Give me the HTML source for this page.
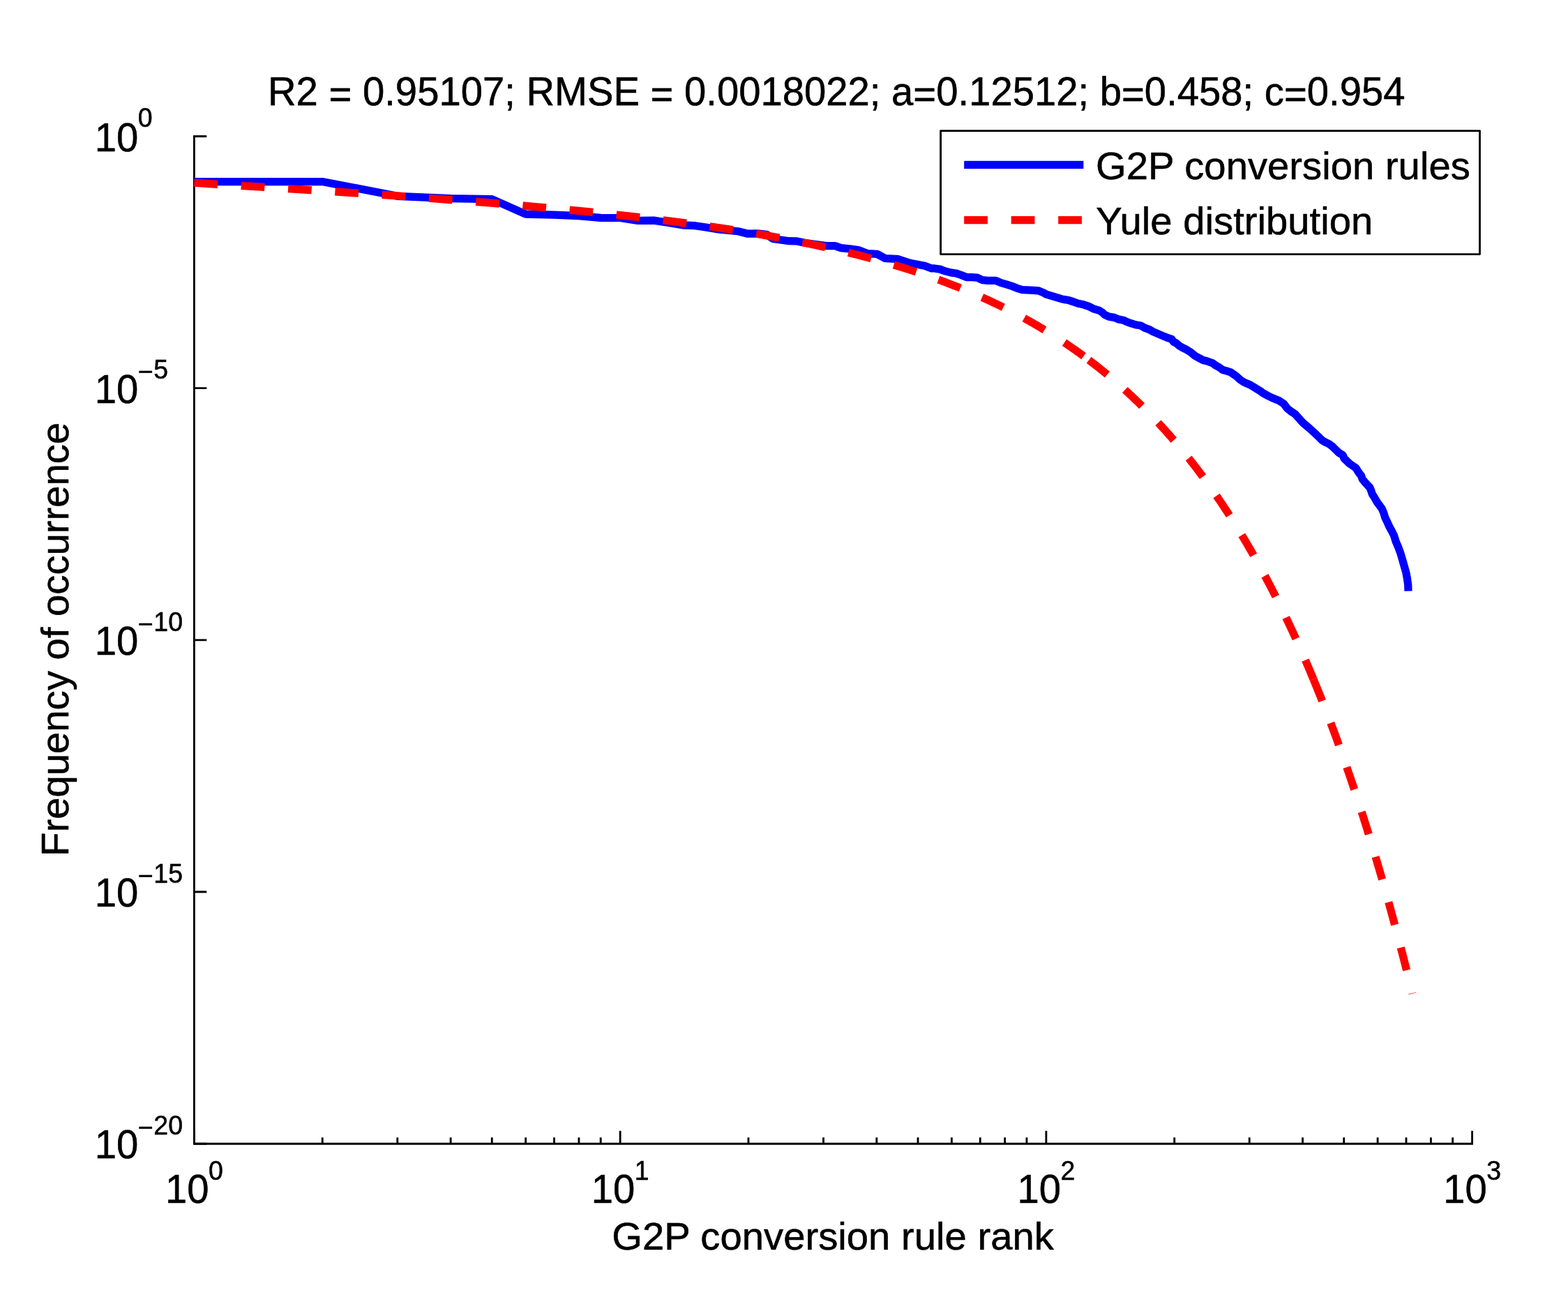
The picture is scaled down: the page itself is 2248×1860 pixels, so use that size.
<!DOCTYPE html>
<html lang="en"><head><meta charset="utf-8"><title>G2P conversion rules</title>
<style>html,body{margin:0;padding:0;background:#fff}body{width:2248px;height:1860px;overflow:hidden}svg{display:block}text{font-family:"Liberation Sans",sans-serif;fill:#000;stroke:#000;stroke-width:0.55px;stroke-linejoin:round}</style></head><body>
<svg width="2248" height="1860" viewBox="0 0 2248 1860">
<rect width="2248" height="1860" fill="#fff"/>
<g stroke="#000" stroke-width="2.85" fill="none" stroke-linecap="butt">
<path d="M278.40 195.50 V1640.20 H2110.60" stroke-linejoin="miter" stroke-linecap="square"/>
<path d="M278.40 195.50 h17.90 M278.40 556.67 h17.90 M278.40 917.85 h17.90 M278.40 1279.03 h17.90 M278.40 1640.20 h17.90 M278.40 1640.20 v-18.40 M462.25 1640.20 v-9.00 M569.79 1640.20 v-9.00 M646.10 1640.20 v-9.00 M705.28 1640.20 v-9.00 M753.64 1640.20 v-9.00 M794.53 1640.20 v-9.00 M829.95 1640.20 v-9.00 M861.19 1640.20 v-9.00 M889.13 1640.20 v-18.40 M1072.98 1640.20 v-9.00 M1180.53 1640.20 v-9.00 M1256.83 1640.20 v-9.00 M1316.02 1640.20 v-9.00 M1364.38 1640.20 v-9.00 M1405.26 1640.20 v-9.00 M1440.68 1640.20 v-9.00 M1471.92 1640.20 v-9.00 M1499.87 1640.20 v-18.40 M1683.72 1640.20 v-9.00 M1791.26 1640.20 v-9.00 M1867.56 1640.20 v-9.00 M1926.75 1640.20 v-9.00 M1975.11 1640.20 v-9.00 M2016.00 1640.20 v-9.00 M2051.41 1640.20 v-9.00 M2082.65 1640.20 v-9.00 M2110.60 1640.20 v-18.40"/>
</g>
<path d="M278.40 260.50 L462.25 260.50 L569.79 281.30 L646.10 284.60 L705.28 285.70 L753.64 307.20 L794.53 308.10 L829.95 309.70 L861.19 312.40 L889.13 312.50 L914.41 316.40 L937.49 316.10 L958.72 319.50 L978.38 322.80 L996.68 323.70 L1013.80 326.30 L1029.88 329.00 L1058.48 331.75 L1072.10 335.22 L1085.71 334.97 L1099.33 336.33 L1108.00 342.40 L1119.14 344.01 L1131.52 345.74 L1142.67 345.99 L1153.81 348.22 L1166.19 349.95 L1184.76 352.68 L1197.14 352.68 L1205.81 355.65 L1218.19 356.89 L1230.57 358.50 L1244.19 363.70 L1257.81 364.44 L1268.95 370.50 L1285.05 371.37 L1287.43 371.48 L1304.76 377.30 L1325.81 381.26 L1335.71 384.97 L1340.00 384.95 L1347.62 386.10 L1355.24 388.91 L1362.86 390.90 L1370.48 391.96 L1378.10 394.48 L1385.71 397.52 L1393.33 397.52 L1400.95 398.06 L1408.57 401.71 L1416.19 402.32 L1427.62 402.32 L1435.24 405.68 L1442.86 407.81 L1450.48 410.25 L1458.10 413.30 L1465.71 415.58 L1477.14 416.19 L1488.57 416.80 L1496.19 419.85 L1500.00 422.15 L1507.62 424.44 L1515.24 426.57 L1522.86 429.01 L1530.48 430.23 L1538.10 432.51 L1545.71 435.33 L1553.33 436.86 L1560.95 439.37 L1568.57 443.18 L1576.19 445.47 L1580.00 447.75 L1583.81 451.33 L1589.90 454.15 L1597.52 455.37 L1602.86 457.66 L1610.48 459.18 L1614.29 461.01 L1619.62 463.14 L1629.52 466.04 L1635.62 466.95 L1640.95 470.15 L1648.57 472.90 L1652.38 475.33 L1660.00 478.57 L1667.62 481.85 L1675.24 484.97 L1679.81 486.42 L1682.86 490.53 L1685.90 491.75 L1690.48 495.71 L1695.81 498.91 L1701.14 501.43 L1707.24 505.24 L1713.33 510.34 L1720.19 514.00 L1724.76 516.44 L1730.86 517.96 L1738.48 520.70 L1743.81 524.67 L1746.86 526.04 L1752.95 530.46 L1758.29 531.90 L1764.38 533.81 L1766.67 535.49 L1772.00 539.14 L1778.10 544.63 L1783.43 548.13 L1791.81 551.71 L1797.14 554.76 L1802.48 558.19 L1808.57 561.85 L1810.00 563.29 L1818.06 567.72 L1826.11 571.59 L1834.17 574.81 L1840.61 579.16 L1845.44 585.60 L1851.08 590.12 L1856.72 593.66 L1862.36 599.94 L1868.00 606.39 L1872.83 610.41 L1878.47 615.25 L1884.11 620.48 L1890.55 626.52 L1895.39 631.36 L1900.00 634.10 L1904.60 636.23 L1909.78 639.85 L1913.23 643.30 L1919.56 649.34 L1925.03 652.51 L1927.04 657.40 L1935.10 665.17 L1944.02 671.21 L1948.04 677.83 L1951.50 682.14 L1953.22 687.03 L1956.67 691.35 L1963.87 699.11 L1965.88 704.00 L1967.32 708.61 L1970.20 712.92 L1974.22 720.00 L1976.71 723.29 L1981.27 729.62 L1983.92 735.95 L1985.82 742.28 L1988.86 748.61 L1991.71 754.94 L1995.19 761.27 L1998.35 767.59 L2001.27 776.71 L2005.06 785.57 L2008.23 794.43 L2010.76 803.29 L2013.29 812.15 L2015.82 821.01 L2017.47 829.87 L2018.73 838.73 L2018.99 847.59" fill="none" stroke="#0000ff" stroke-width="11.25" stroke-linejoin="round" stroke-linecap="butt"/>
<path d="M278.40 262.18 L462.25 273.62 L569.79 280.92 L646.10 286.53 L705.28 291.22 L753.64 295.31 L794.53 299.00 L829.95 302.40 L861.19 305.57 L889.13 308.56 L914.41 311.41 L937.49 314.14 L958.72 316.76 L978.38 319.31 L996.68 321.77 L1013.80 324.18 L1029.88 326.53 L1045.04 328.83 L1059.38 331.08 L1072.98 333.29 L1085.92 335.47 L1098.26 337.62 L1110.05 339.73 L1121.34 341.82 L1132.17 343.89 L1142.57 345.93 L1152.58 347.95 L1162.23 349.95 L1171.54 351.93 L1180.53 353.89 L1189.22 355.84 L1197.65 357.77 L1205.81 359.69 L1213.73 361.60 L1221.41 363.49 L1228.89 365.38 L1236.15 367.25 L1243.23 369.11 L1250.12 370.96 L1256.83 372.80 L1263.38 374.63 L1269.77 376.46 L1276.01 378.27 L1282.11 380.08 L1288.07 381.88 L1293.90 383.67 L1299.61 385.46 L1305.19 387.24 L1310.66 389.01 L1316.02 390.78 L1321.27 392.54 L1326.42 394.30 L1331.47 396.05 L1336.43 397.79 L1341.30 399.53 L1346.08 401.27 L1350.77 403.00 L1355.38 404.73 L1359.92 406.45 L1364.38 408.17 L1368.76 409.89 L1373.07 411.60 L1377.32 413.30 L1381.49 415.01 L1385.61 416.71 L1389.66 418.41 L1393.64 420.10 L1397.57 421.79 L1401.45 423.48 L1405.26 425.16 L1409.03 426.84 L1412.73 428.52 L1416.39 430.19 L1420.00 431.87 L1423.56 433.54 L1427.08 435.21 L1430.54 436.87 L1433.97 438.53 L1437.34 440.19 L1440.68 441.85 L1443.98 443.51 L1447.23 445.16 L1450.44 446.81 L1453.62 448.46 L1456.76 450.11 L1459.86 451.75 L1462.93 453.40 L1465.96 455.04 L1468.96 456.68 L1471.92 458.32 L1474.85 459.95 L1477.75 461.59 L1480.62 463.22 L1483.45 464.85 L1486.26 466.48 L1489.04 468.11 L1491.79 469.73 L1494.51 471.36 L1497.20 472.98 L1499.87 474.60 L1502.51 476.22 L1505.12 477.84 L1507.71 479.46 L1510.27 481.08 L1512.81 482.69 L1515.32 484.31 L1517.81 485.92 L1520.28 487.53 L1522.72 489.14 L1525.15 490.75 L1527.55 492.35 L1529.93 493.96 L1532.28 495.57 L1534.62 497.17 L1536.94 498.77 L1539.23 500.37 L1541.51 501.97 L1543.77 503.57 L1546.01 505.17 L1548.23 506.77 L1550.43 508.37 L1552.61 509.96 L1554.77 511.56 L1556.92 513.15 L1559.05 514.74 L1561.17 516.34" fill="none" stroke="#ff0000" stroke-width="11.25" stroke-dasharray="33.70 33.75" stroke-linejoin="round" stroke-linecap="butt"/>
<path d="M1561.17 516.34 L1563.26 517.93 L1565.34 519.52 L1567.41 521.11 L1569.46 522.69 L1571.49 524.28 L1573.51 525.87 L1575.51 527.45 L1577.49 529.04 L1579.47 530.62 L1581.42 532.21 L1583.37 533.79 L1585.30 535.37 L1587.21 536.95 L1589.11 538.53 L1591.00 540.11 L1592.87 541.69 L1594.74 543.27 L1596.58 544.85 L1598.42 546.42 L1600.24 548.00 L1602.05 549.57 L1603.85 551.15 L1605.64 552.72 L1607.41 554.30 L1609.17 555.87 L1610.92 557.44 L1612.66 559.01 L1614.39 560.58 L1616.11 562.15 L1617.81 563.72 L1619.51 565.29 L1621.19 566.86 L1622.87 568.43 L1624.53 570.00 L1626.18 571.56 L1627.82 573.13 L1629.46 574.70 L1631.08 576.26 L1632.69 577.83 L1634.29 579.39 L1635.89 580.95 L1637.47 582.52 L1639.04 584.08 L1640.61 585.64 L1642.17 587.20 L1643.71 588.76 L1645.25 590.32 L1646.78 591.88 L1648.30 593.44 L1649.81 595.00 L1651.31 596.56 L1652.81 598.12 L1654.29 599.68 L1655.77 601.24 L1657.24 602.79 L1658.70 604.35 L1660.15 605.90 L1661.60 607.46 L1663.04 609.02 L1664.47 610.57 L1665.89 612.12 L1667.30 613.68 L1668.71 615.23 L1670.11 616.79 L1671.50 618.34 L1672.89 619.89 L1674.27 621.44 L1675.64 622.99 L1677.00 624.55 L1678.36 626.10 L1679.71 627.65 L1681.05 629.20 L1682.39 630.75 L1683.72 632.30 L1685.04 633.84 L1686.35 635.39 L1687.66 636.94 L1688.97 638.49 L1690.27 640.04 L1691.56 641.58 L1692.84 643.13 L1694.12 644.68 L1695.39 646.22 L1696.66 647.77 L1697.92 649.32 L1699.17 650.86 L1700.42 652.41 L1701.66 653.95 L1702.90 655.49 L1704.13 657.04 L1705.35 658.58 L1706.57 660.13 L1707.79 661.67 L1709.00 663.21 L1710.20 664.75 L1711.40 666.30 L1712.59 667.84 L1713.77 669.38 L1714.96 670.92 L1716.13 672.46 L1717.30 674.00 L1718.47 675.54 L1719.63 677.08 L1720.79 678.62 L1721.94 680.16 L1723.08 681.70 L1724.22 683.24 L1725.36 684.78 L1726.49 686.32 L1727.62 687.86 L1728.74 689.40 L1729.85 690.93 L1730.97 692.47 L1732.07 694.01 L1733.18 695.55 L1734.28 697.08 L1735.37 698.62 L1736.46 700.15 L1737.54 701.69 L1738.62 703.23 L1739.70 704.76 L1740.77 706.30 L1741.84 707.83 L1742.90 709.37 L1743.96 710.90 L1745.02 712.44 L1746.07 713.97 L1747.11 715.51 L1748.15 717.04 L1749.19 718.57 L1750.23 720.11 L1751.26 721.64 L1752.28 723.17 L1753.30 724.70 L1754.32 726.24 L1755.34 727.77 L1756.35 729.30 L1757.35 730.83 L1758.36 732.37 L1759.36 733.90 L1760.35 735.43 L1761.34 736.96 L1762.33 738.49 L1763.31 740.02 L1764.30 741.55 L1765.27 743.08 L1766.25 744.61 L1767.22 746.14 L1768.18 747.67 L1769.14 749.20 L1770.10 750.73 L1771.06 752.26 L1772.01 753.79 L1772.96 755.32 L1773.91 756.84 L1774.85 758.37 L1775.79 759.90 L1776.72 761.43 L1777.66 762.96 L1778.58 764.48 L1779.51 766.01 L1780.43 767.54 L1781.35 769.07 L1782.27 770.59 L1783.18 772.12 L1784.09 773.65 L1785.00 775.17 L1785.90 776.70 L1786.80 778.23 L1787.70 779.75 L1788.59 781.28 L1789.49 782.80 L1790.37 784.33 L1791.26 785.85 L1792.14 787.38 L1793.02 788.90 L1793.90 790.43 L1794.77 791.95 L1795.64 793.48 L1796.51 795.00 L1797.38 796.53 L1798.24 798.05 L1799.10 799.57 L1799.96 801.10 L1800.81 802.62 L1801.66 804.15 L1802.51 805.67 L1803.36 807.19 L1804.20 808.71 L1805.04 810.24 L1805.88 811.76 L1806.72 813.28 L1807.55 814.81 L1808.38 816.33 L1809.21 817.85 L1810.03 819.37 L1810.85 820.89 L1811.67 822.42 L1812.49 823.94 L1813.31 825.46 L1814.12 826.98 L1814.93 828.50 L1815.74 830.02 L1816.54 831.54 L1817.34 833.06 L1818.14 834.58 L1818.94 836.10 L1819.74 837.63 L1820.53 839.15 L1821.32 840.67 L1822.11 842.19 L1822.89 843.71 L1823.68 845.23 L1824.46 846.74 L1825.24 848.26 L1826.01 849.78 L1826.79 851.30 L1827.56 852.82 L1828.33 854.34 L1829.10 855.86 L1829.86 857.38 L1830.63 858.90 L1831.39 860.42 L1832.15 861.93 L1832.90 863.45 L1833.66 864.97 L1834.41 866.49 L1835.16 868.01 L1835.91 869.53 L1836.66 871.04 L1837.40 872.56 L1838.14 874.08 L1838.88 875.60 L1839.62 877.11 L1840.35 878.63 L1841.09 880.15 L1841.82 881.66 L1842.55 883.18 L1843.28 884.70 L1844.00 886.21 L1844.73 887.73 L1845.45 889.25 L1846.17 890.76 L1846.89 892.28 L1847.60 893.80 L1848.32 895.31 L1849.03 896.83 L1849.74 898.34 L1850.45 899.86 L1851.15 901.37 L1851.86 902.89 L1852.56 904.41 L1853.26 905.92 L1853.96 907.44 L1854.66 908.95 L1855.35 910.47 L1856.05 911.98 L1856.74 913.50 L1857.43 915.01 L1858.12 916.53 L1858.80 918.04 L1859.49 919.55 L1860.17 921.07 L1860.85 922.58 L1861.53 924.10 L1862.21 925.61 L1862.88 927.12 L1863.56 928.64 L1864.23 930.15 L1864.90 931.67 L1865.57 933.18 L1866.24 934.69 L1866.90 936.21 L1867.56 937.72 L1868.23 939.23 L1868.89 940.75 L1869.55 942.26 L1870.20 943.77 L1870.86 945.28 L1871.51 946.80 L1872.17 948.31 L1872.82 949.82 L1873.47 951.34 L1874.11 952.85 L1874.76 954.36 L1875.40 955.87 L1876.05 957.38 L1876.69 958.90 L1877.33 960.41 L1877.97 961.92 L1878.60 963.43 L1879.24 964.94 L1879.87 966.46 L1880.51 967.97 L1881.14 969.48 L1881.77 970.99 L1882.39 972.50 L1883.02 974.01" fill="none" stroke="#ff0000" stroke-width="11.25" stroke-dasharray="33.50 33.57" stroke-linejoin="round" stroke-linecap="butt"/>
<path d="M1883.02 974.01 L1883.64 975.52 L1884.27 977.03 L1884.89 978.55 L1885.51 980.06 L1886.13 981.57 L1886.75 983.08 L1887.36 984.59 L1887.98 986.10 L1888.59 987.61 L1889.20 989.12 L1889.81 990.63 L1890.42 992.14 L1891.03 993.65 L1891.64 995.16 L1892.24 996.67 L1892.84 998.18 L1893.45 999.69 L1894.05 1001.20 L1894.65 1002.71 L1895.25 1004.22 L1895.84 1005.73 L1896.44 1007.24 L1897.03 1008.75 L1897.62 1010.26 L1898.22 1011.77 L1898.81 1013.28 L1899.39 1014.79 L1899.98 1016.30 L1900.57 1017.81 L1901.15 1019.31 L1901.74 1020.82 L1902.32 1022.33 L1902.90 1023.84 L1903.48 1025.35 L1904.06 1026.86 L1904.63 1028.37 L1905.21 1029.88 L1905.79 1031.38 L1906.36 1032.89 L1906.93 1034.40 L1907.50 1035.91 L1908.07 1037.42 L1908.64 1038.93 L1909.21 1040.43 L1909.77 1041.94 L1910.34 1043.45 L1910.90 1044.96 L1911.47 1046.46 L1912.03 1047.97 L1912.59 1049.48 L1913.15 1050.99 L1913.70 1052.50 L1914.26 1054.00 L1914.82 1055.51 L1915.37 1057.02 L1915.92 1058.52 L1916.48 1060.03 L1917.03 1061.54 L1917.58 1063.05 L1918.12 1064.55 L1918.67 1066.06 L1919.22 1067.57 L1919.76 1069.07 L1920.31 1070.58 L1920.85 1072.09 L1921.39 1073.59 L1921.93 1075.10 L1922.47 1076.61 L1923.01 1078.11 L1923.55 1079.62 L1924.09 1081.13 L1924.62 1082.63 L1925.15 1084.14 L1925.69 1085.65 L1926.22 1087.15 L1926.75 1088.66 L1927.28 1090.16 L1927.81 1091.67 L1928.34 1093.18 L1928.86 1094.68 L1929.39 1096.19 L1929.91 1097.69 L1930.44 1099.20 L1930.96 1100.70 L1931.48 1102.21 L1932.00 1103.72 L1932.52 1105.22 L1933.04 1106.73 L1933.56 1108.23 L1934.08 1109.74 L1934.59 1111.24 L1935.11 1112.75 L1935.62 1114.25 L1936.13 1115.76 L1936.64 1117.26 L1937.15 1118.77 L1937.66 1120.27 L1938.17 1121.78 L1938.68 1123.28 L1939.19 1124.79 L1939.69 1126.29 L1940.20 1127.80 L1940.70 1129.30 L1941.20 1130.81 L1941.71 1132.31 L1942.21 1133.81 L1942.71 1135.32 L1943.21 1136.82 L1943.70 1138.33 L1944.20 1139.83 L1944.70 1141.34 L1945.19 1142.84 L1945.69 1144.34 L1946.18 1145.85 L1946.67 1147.35 L1947.16 1148.86 L1947.65 1150.36 L1948.14 1151.86 L1948.63 1153.37 L1949.12 1154.87 L1949.61 1156.38 L1950.09 1157.88 L1950.58 1159.38 L1951.06 1160.89 L1951.55 1162.39 L1952.03 1163.89 L1952.51 1165.40 L1952.99 1166.90 L1953.47 1168.40 L1953.95 1169.91 L1954.43 1171.41 L1954.91 1172.91 L1955.39 1174.42 L1955.86 1175.92 L1956.34 1177.42 L1956.81 1178.93 L1957.28 1180.43 L1957.76 1181.93 L1958.23 1183.43 L1958.70 1184.94 L1959.17 1186.44 L1959.64 1187.94 L1960.10 1189.45 L1960.57 1190.95 L1961.04 1192.45 L1961.50 1193.95 L1961.97 1195.46 L1962.43 1196.96 L1962.90 1198.46 L1963.36 1199.96 L1963.82 1201.47 L1964.28 1202.97 L1964.74 1204.47 L1965.20 1205.97 L1965.66 1207.47 L1966.12 1208.98 L1966.57 1210.48 L1967.03 1211.98 L1967.49 1213.48 L1967.94 1214.98 L1968.39 1216.49 L1968.85 1217.99 L1969.30 1219.49 L1969.75 1220.99 L1970.20 1222.49 L1970.65 1224.00 L1971.10 1225.50 L1971.55 1227.00 L1972.00 1228.50 L1972.44 1230.00 L1972.89 1231.50 L1973.34 1233.00 L1973.78 1234.51 L1974.22 1236.01 L1974.67 1237.51 L1975.11 1239.01 L1975.55 1240.51 L1975.99 1242.01 L1976.43 1243.51 L1976.87 1245.01 L1977.31 1246.52 L1977.75 1248.02 L1978.19 1249.52 L1978.62 1251.02 L1979.06 1252.52 L1979.49 1254.02 L1979.93 1255.52 L1980.36 1257.02 L1980.80 1258.52 L1981.23 1260.02 L1981.66 1261.52 L1982.09 1263.03 L1982.52 1264.53 L1982.95 1266.03 L1983.38 1267.53 L1983.81 1269.03 L1984.23 1270.53 L1984.66 1272.03 L1985.09 1273.53 L1985.51 1275.03 L1985.94 1276.53 L1986.36 1278.03 L1986.78 1279.53 L1987.21 1281.03 L1987.63 1282.53 L1988.05 1284.03 L1988.47 1285.53 L1988.89 1287.03 L1989.31 1288.53 L1989.73 1290.03 L1990.15 1291.53 L1990.56 1293.03 L1990.98 1294.53 L1991.40 1296.03 L1991.81 1297.53 L1992.23 1299.03 L1992.64 1300.53 L1993.06 1302.03 L1993.47 1303.53 L1993.88 1305.03 L1994.29 1306.53 L1994.70 1308.03 L1995.11 1309.53 L1995.52 1311.03 L1995.93 1312.53 L1996.34 1314.03 L1996.75 1315.53 L1997.15 1317.02 L1997.56 1318.52 L1997.97 1320.02 L1998.37 1321.52 L1998.78 1323.02 L1999.18 1324.52 L1999.58 1326.02 L1999.99 1327.52 L2000.39 1329.02 L2000.79 1330.52 L2001.19 1332.02 L2001.59 1333.52 L2001.99 1335.01 L2002.39 1336.51 L2002.79 1338.01 L2003.19 1339.51 L2003.59 1341.01 L2003.98 1342.51 L2004.38 1344.01 L2004.77 1345.51 L2005.17 1347.01 L2005.56 1348.50 L2005.96 1350.00 L2006.35 1351.50 L2006.74 1353.00 L2007.13 1354.50 L2007.53 1356.00 L2007.92 1357.50 L2008.31 1358.99 L2008.70 1360.49 L2009.09 1361.99 L2009.48 1363.49 L2009.86 1364.99 L2010.25 1366.49 L2010.64 1367.98 L2011.02 1369.48 L2011.41 1370.98 L2011.80 1372.48 L2012.18 1373.98 L2012.56 1375.48 L2012.95 1376.97 L2013.33 1378.47 L2013.71 1379.97 L2014.09 1381.47 L2014.48 1382.97 L2014.86 1384.46 L2015.24 1385.96 L2015.62 1387.46 L2016.00 1388.96 L2016.37 1390.45 L2016.75 1391.95 L2017.13 1393.45 L2017.51 1394.95 L2017.88 1396.45 L2018.26 1397.94 L2018.64 1399.44 L2019.01 1400.94 L2019.38 1402.44 L2019.76 1403.93 L2020.13 1405.43 L2020.50 1406.93 L2020.88 1408.43 L2021.25 1409.92 L2021.62 1411.42 L2021.99 1412.92 L2022.36 1414.42 L2022.73 1415.91 L2023.10 1417.41 L2023.47 1418.91 L2023.84 1420.41 L2024.20 1421.90 L2024.57 1423.40 L2024.94 1424.90" fill="none" stroke="#ff0000" stroke-width="11.25" stroke-dasharray="33.70 33.80" stroke-linejoin="round" stroke-linecap="butt"/>
<rect x="1348.60" y="187.60" width="772.90" height="177.00" fill="#fff" stroke="#000" stroke-width="2.85" stroke-linejoin="round"/>
<path d="M1382.2 236.3 H1553.4" stroke="#0000ff" stroke-width="11.25" fill="none"/>
<path d="M1382.2 315.5 H1553.4" stroke="#ff0000" stroke-width="11.25" stroke-dasharray="33.75 33.75" fill="none"/>
<text x="1571.07" y="257.00" font-size="56.25px" >G2P conversion rules</text>
<text x="1571.16" y="336.00" font-size="56.25px" >Yule distribution</text>
<text transform="translate(383.99 151.00) scale(1 1.025)" font-size="56.25px" >R2 <tspan dy="4.3">=</tspan><tspan dy="-4.3"> 0.95107; RMSE </tspan><tspan dy="4.3">=</tspan><tspan dy="-4.3"> 0.0018022; a</tspan><tspan dy="4.3">=</tspan><tspan dy="-4.3">0.12512; b</tspan><tspan dy="4.3">=</tspan><tspan dy="-4.3">0.458; c</tspan><tspan dy="4.3">=</tspan><tspan dy="-4.3">0.954</tspan></text>
<text x="877.17" y="1792.00" font-size="56.25px" >G2P conversion rule rank</text>
<text transform="translate(98.1 1227.91) rotate(-90)" font-size="56.25px">Frequency of occurrence</text>
<text transform="translate(135.80 216.50) scale(1 1.025)" font-size="56.25px" >10</text>
<text transform="translate(197.80 182.20) scale(1 1.025)" font-size="37.50px" >0</text>
<text transform="translate(135.80 577.67) scale(1 1.025)" font-size="56.25px" >10</text>
<text transform="translate(197.80 546.38) scale(1 1.025)" font-size="37.50px" >−</text>
<text transform="translate(220.30 543.38) scale(1 1.025)" font-size="37.50px" >5</text>
<text transform="translate(135.80 938.85) scale(1 1.025)" font-size="56.25px" >10</text>
<text transform="translate(197.80 907.55) scale(1 1.025)" font-size="37.50px" >−</text>
<text transform="translate(220.30 904.55) scale(1 1.025)" font-size="37.50px" >10</text>
<text transform="translate(135.80 1300.03) scale(1 1.025)" font-size="56.25px" >10</text>
<text transform="translate(197.80 1268.73) scale(1 1.025)" font-size="37.50px" >−</text>
<text transform="translate(220.30 1265.73) scale(1 1.025)" font-size="37.50px" >15</text>
<text transform="translate(135.80 1661.20) scale(1 1.025)" font-size="56.25px" >10</text>
<text transform="translate(197.80 1629.90) scale(1 1.025)" font-size="37.50px" >−</text>
<text transform="translate(220.30 1626.90) scale(1 1.025)" font-size="37.50px" >20</text>
<text transform="translate(237.00 1725.30) scale(1 1.025)" font-size="56.25px" >10</text>
<text transform="translate(299.00 1691.70) scale(1 1.025)" font-size="37.50px" >0</text>
<text transform="translate(847.73 1725.30) scale(1 1.025)" font-size="56.25px" >10</text>
<text transform="translate(909.73 1691.70) scale(1 1.025)" font-size="37.50px" >1</text>
<text transform="translate(1458.47 1725.30) scale(1 1.025)" font-size="56.25px" >10</text>
<text transform="translate(1520.47 1691.70) scale(1 1.025)" font-size="37.50px" >2</text>
<text transform="translate(2069.20 1725.30) scale(1 1.025)" font-size="56.25px" >10</text>
<text transform="translate(2131.20 1691.70) scale(1 1.025)" font-size="37.50px" >3</text>
</svg></body></html>
